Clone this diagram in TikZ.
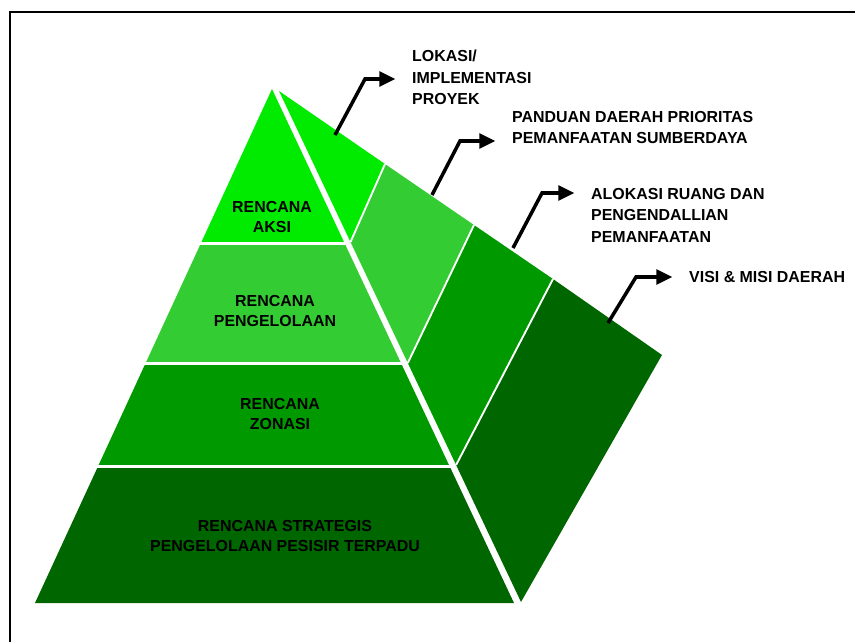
\documentclass[tikz,border=0pt]{standalone}
\usepackage{fontspec}
\setmainfont{Liberation Sans}
\usetikzlibrary{arrows.meta}

\definecolor{aksigreen}{RGB}{0,235,0}
\definecolor{kelolagreen}{RGB}{51,204,51}
\definecolor{zonagreen}{RGB}{0,153,0}
\definecolor{strategigreen}{RGB}{0,102,0}

\begin{document}
\begin{tikzpicture}[x=0.03cm,y=-0.03cm,
   tier/.style={font=\fontsize{13.6}{17.9}\selectfont\bfseries, align=center, inner sep=0pt},
   tag/.style={font=\fontsize{13.6}{18.3}\selectfont\bfseries, align=left, anchor=north west, inner sep=0pt},
   callout/.style={line width=3pt, -{Triangle[length=4.8mm,width=4.4mm]}, shorten >=5mm},
   divider/.style={white, line width=1.6pt}]

\useasboundingbox (0,0) rectangle (855,642);
\draw[line width=1.5pt] (9.8,11.8) rectangle (900,700);

% front face
\coordinate (apex) at (272,89);
\coordinate (bl) at (35,603);
\coordinate (br) at (514,603);
\begin{scope}
  \clip (apex) -- (bl) -- (br) -- cycle;
  \fill[aksigreen] (0,80) rectangle (855,242);
  \fill[kelolagreen] (0,245) rectangle (855,362);
  \fill[zonagreen] (0,365) rectangle (855,465);
  \fill[strategigreen] (0,468) rectangle (855,610);
\end{scope}

% side face
\coordinate (top) at (279,91);
\coordinate (far) at (662,355);
\coordinate (bot) at (521,602);
\coordinate (s1) at (385,164);   \coordinate (e1) at (350.5,242);
\coordinate (s2) at (474,225);   \coordinate (e2) at (407.8,363);
\coordinate (s3) at (553,279);   \coordinate (e3) at (456.1,465);
\fill[aksigreen] (top) -- (s1) -- (e1) -- cycle;
\fill[kelolagreen] (s1) -- (s2) -- (e2) -- (e1) -- cycle;
\fill[zonagreen] (s2) -- (s3) -- (e3) -- (e2) -- cycle;
\fill[strategigreen] (s3) -- (far) -- (bot) -- (e3) -- cycle;
\draw[divider] (s1) -- (e1) (s2) -- (e2) (s3) -- (e3);

% tiers
\node[tier] (aksi) at (272,217) {RENCANA\\AKSI};
\node[tier] (kelola) at (275,311) {RENCANA\\PENGELOLAAN};
\node[tier] (zona) at (280,414) {RENCANA\\ZONASI};
\node[tier] (strategi) at (285,536) {RENCANA STRATEGIS\\PENGELOLAAN PESISIR TERPADU};

% tags
\node[tag] (lokasi) at (412,50) {LOKASI/\\IMPLEMENTASI\\PROYEK};
\node[tag] (panduan) at (512,111) {PANDUAN DAERAH PRIORITAS\\PEMANFAATAN SUMBERDAYA};
\node[tag] (alokasi) at (591,188) {ALOKASI RUANG DAN\\PENGENDALLIAN\\PEMANFAATAN};
\node[tag] (visi) at (689,271) {VISI \& MISI DAERAH};

% callouts
\coordinate (p1) at (335,135); \coordinate (q1) at (365,79);
\coordinate (p2) at (432,195); \coordinate (q2) at (460,141);
\coordinate (p3) at (513,248); \coordinate (q3) at (542,193);
\coordinate (p4) at (608,323); \coordinate (q4) at (636,277);
\draw[callout] (p1) -- (q1) -- (q1 -| lokasi.west);
\draw[callout] (p2) -- (q2) -- (q2 -| panduan.west);
\draw[callout] (p3) -- (q3) -- (q3 -| alokasi.west);
\draw[callout] (p4) -- (q4) -- (q4 -| visi.west);

\end{tikzpicture}
\end{document}
